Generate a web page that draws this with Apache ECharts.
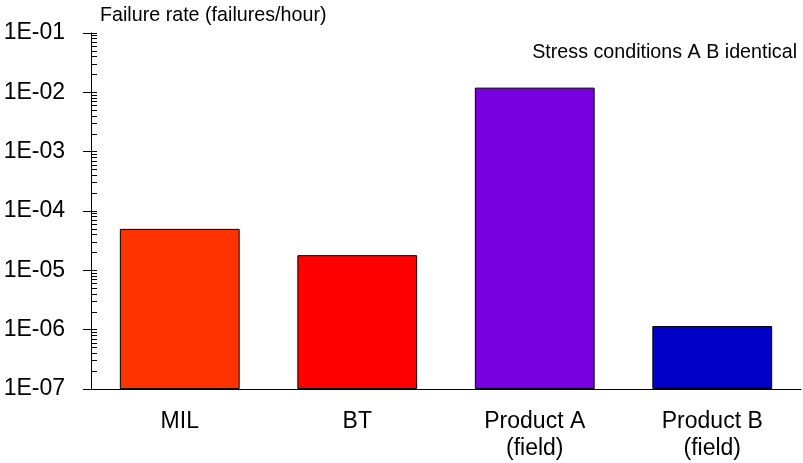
<!DOCTYPE html>
<html>
<head>
<meta charset="utf-8">
<script src="https://cdn.jsdelivr.net/npm/echarts@6/dist/echarts.min.js"></script>
<style>
  html, body { margin: 0; padding: 0; background: #fff; }
  #chart { width: 803px; height: 463px; }
</style>
</head>
<body>
<div id="chart"></div>
<script>
const categories = ['MIL', 'BT', 'Product A\n(field)', 'Product B\n(field)'];
const failureRates = [5.0e-5, 1.8e-5, 1.2e-2, 1.15e-6];
const barColors = ['#ff3300', '#ff0000', '#7800e0', '#0000c8'];
const yTicks = [1e-7, 1e-6, 1e-5, 1e-4, 1e-3, 1e-2, 1e-1];
const yTickLabels = ['1E-07', '1E-06', '1E-05', '1E-04', '1E-03', '1E-02', '1E-01'];

const yMin = yTicks[0];
const yMax = yTicks[yTicks.length - 1];

// minor ticks 1..9 per decade
const minorTicks = [];
for (let i = 0; i < yTicks.length - 1; i++) {
    for (let m = 1; m <= 9; m++) {
        minorTicks.push(m * yTicks[i]);
    }
}
minorTicks.push(yMax);

const font = 'Liberation Sans, Arial, sans-serif';
const chart = echarts.init(document.getElementById('chart'));

chart.setOption({
    animation: false,
    title: [
        {
            text: 'Failure rate (failures/hour)',
            left: 100,
            top: 6,
            padding: 0,
            textStyle: { fontFamily: font, fontSize: 19.7, fontWeight: 'normal', color: '#000' }
        },
        {
            text: 'Stress conditions A B identical',
            right: 6,
            top: 43,
            padding: 0,
            textStyle: { fontFamily: font, fontSize: 19.7, fontWeight: 'normal', color: '#000' }
        }
    ],
    grid: { left: 91, right: 2, top: 33, bottom: 74 },
    xAxis: {
        type: 'category',
        data: categories,
        boundaryGap: true,
        axisLine: { lineStyle: { color: '#000', width: 1 } },
        axisTick: { length: 7, lineStyle: { color: '#000' } },
        axisLabel: {
            margin: 19,
            fontFamily: font,
            fontSize: 23,
            lineHeight: 27,
            color: '#000',
            interval: 0
        },
        splitLine: { show: false }
    },
    yAxis: [
        {
            type: 'log',
            min: yMin,
            max: yMax,
            position: 'left',
            axisLine: { show: true, lineStyle: { color: '#000', width: 1 } },
            axisTick: { show: true, length: 8, customValues: yTicks, lineStyle: { color: '#000' } },
            axisLabel: {
                margin: 26,
                customValues: yTicks,
                fontFamily: font,
                fontSize: 23,
                color: '#000',
                formatter: function (v) {
                    let idx = yTicks.findIndex(t => Math.abs(Math.log10(t) - Math.log10(v)) < 1e-6);
                    return idx >= 0 ? yTickLabels[idx] : '';
                }
            },
            splitLine: { show: false }
        },
        {
            type: 'log',
            min: yMin,
            max: yMax,
            position: 'left',
            axisLine: { show: false },
            axisTick: { show: true, inside: true, length: 6, customValues: minorTicks, lineStyle: { color: '#000' } },
            axisLabel: { show: false },
            splitLine: { show: false }
        }
    ],
    series: [
        {
            // invisible base so the bars grow from the bottom of the log axis
            type: 'bar',
            stack: 'rate',
            silent: true,
            barWidth: '67.5%',
            data: categories.map(() => yMin),
            itemStyle: { color: 'rgba(0,0,0,0)', borderWidth: 0 }
        },
        {
            type: 'bar',
            stack: 'rate',
            barWidth: '67.5%',
            data: failureRates.map((v, i) => ({
                value: v - yMin,
                itemStyle: { color: barColors[i] }
            })),
            itemStyle: { borderColor: '#000', borderWidth: 1 }
        }
    ]
});
</script>
</body>
</html>
